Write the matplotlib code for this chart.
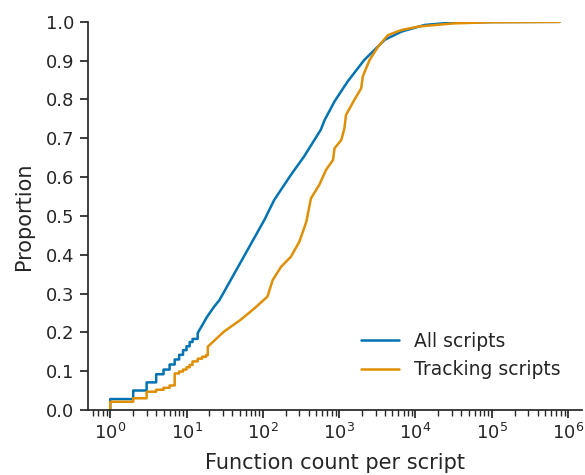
import numpy as np
import matplotlib.pyplot as plt
import seaborn as sns

sns.set_theme(style="ticks", context="notebook")
plt.rcParams['font.family'] = ['DejaVu Sans']

# ECDF: low counts are discrete steps, the rest is dense
all_step_x = [1, 2, 3, 4, 5, 6, 7, 8, 9, 10, 11, 12, 14]
all_step_y = [0.028, 0.050, 0.071, 0.092, 0.104, 0.117, 0.130, 0.142, 0.154, 0.164, 0.175, 0.183, 0.198]
all_x = [18.6, 23, 27, 38, 63, 105, 141, 234, 347, 575, 646, 871, 1290, 2140,
         3980, 6600, 13200, 29500, 100000, 776000]
all_y = [0.240, 0.266, 0.283, 0.335, 0.412, 0.490, 0.541, 0.606, 0.653, 0.722,
         0.747, 0.795, 0.846, 0.902, 0.954, 0.975, 0.992, 0.998, 0.9995, 1.0]

trk_step_x = [1, 2, 3, 4, 5, 6, 7, 8, 9, 10, 11, 12, 14, 16, 18, 19]
trk_step_y = [0.021, 0.030, 0.047, 0.052, 0.057, 0.063, 0.094, 0.099, 0.104, 0.110,
              0.116, 0.125, 0.132, 0.137, 0.141, 0.163]
trk_x = [31, 51, 78, 115, 135, 174, 234, 302, 372, 427, 550, 676, 832, 871, 1070,
         1175, 1230, 1585, 1950, 2040, 2510, 3240, 4370, 6600, 11000, 31600, 100000, 776000]
trk_y = [0.202, 0.232, 0.262, 0.292, 0.335, 0.369, 0.395, 0.434, 0.485, 0.545, 0.580,
         0.619, 0.644, 0.674, 0.696, 0.726, 0.760, 0.799, 0.829, 0.859, 0.902, 0.936,
         0.966, 0.979, 0.988, 0.996, 0.999, 1.0]

labels = ['All scripts', 'Tracking scripts']
colors = ['#0173b2', '#de8f05']


def ecdf_path(sx, sy, x, y):
    # step part drawn post-style, then the dense part as a line
    px, py = [], []
    prev = 0.0
    for xi, yi in zip(sx, sy):
        px += [xi, xi]
        py += [prev, yi]
        prev = yi
    px += list(x)
    py += list(y)
    return np.array(px, dtype=float), np.array(py)


fig, ax = plt.subplots(figsize=(5.85, 4.75), dpi=100)
fig.subplots_adjust(left=0.150, right=0.995, bottom=0.137, top=0.954)

series = [(all_step_x, all_step_y, all_x, all_y), (trk_step_x, trk_step_y, trk_x, trk_y)]
for (sx, sy, x, y), lab, c in zip(series, labels, colors):
    px, py = ecdf_path(sx, sy, x, y)
    ax.plot(px, py, color=c, lw=1.8, label=lab)

ax.set_xscale('log')
ax.set_ylim(0, 1)
ax.set_yticks(np.arange(0, 1.01, 0.1))
ax.set_xlabel('Function count per script', fontsize=15, labelpad=7)
ax.set_ylabel('Proportion', fontsize=15, labelpad=9)
ax.tick_params(axis='both', which='major', labelsize=13)
ax.legend(loc='lower right', bbox_to_anchor=(0.99, 0.036), frameon=False, fontsize=13.5)
sns.despine()

fig.savefig('out.png', dpi=100)
